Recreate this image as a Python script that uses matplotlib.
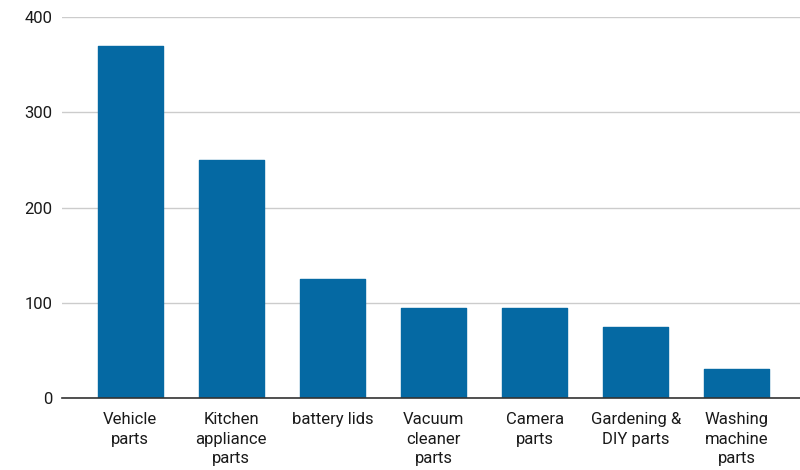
import matplotlib.pyplot as plt

categories = ["Vehicle\nparts", "Kitchen\nappliance\nparts", "battery lids",
              "Vacuum\ncleaner\nparts", "Camera\nparts", "Gardening &\nDIY parts",
              "Washing\nmachine\nparts"]
values = [370, 250, 125, 95, 95, 75, 30]
yticks = [0, 100, 200, 300, 400]

plt.rcParams['font.family'] = ['Roboto', 'DejaVu Sans']

fig = plt.figure(figsize=(8, 4.7), dpi=100)
ax = fig.add_axes([0.0775, 0.1532, 0.9225, 0.8106])

x = range(len(values))
ax.bar(x, values, width=0.64, color="#0569a3", edgecolor="#0569a3",
       linewidth=1, joinstyle="round", zorder=3)

ax.set_ylim(0, 400)
ax.set_xlim(-0.675, 6.625)
ax.set_yticks(yticks)
ax.set_xticks(list(x))
ax.set_xticklabels(categories, linespacing=1.4, va="top")
ax.grid(axis="y", color="#cccccc", linewidth=1, zorder=0)
ax.set_axisbelow(True)

for s in ["top", "right", "left"]:
    ax.spines[s].set_visible(False)
ax.spines["bottom"].set_color("#333333")
ax.spines["bottom"].set_linewidth(1.2)
ax.spines["bottom"].set_zorder(4)

ax.tick_params(axis="both", length=0, labelsize=12, labelcolor="#1a1a1a")
ax.tick_params(axis="y", pad=7)
ax.tick_params(axis="x", pad=10)

fig.savefig("out.png", dpi=100)
